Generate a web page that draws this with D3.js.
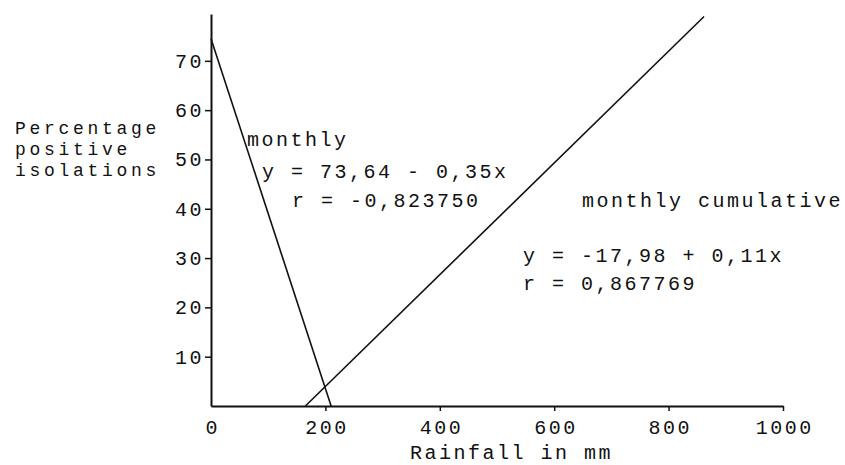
<!DOCTYPE html>
<html>
<head>
<meta charset="utf-8">
<script src="https://cdn.jsdelivr.net/npm/d3@7"></script>
<style>
  body { margin: 0; background: #fff; }
  svg text { font-family: "Liberation Mono", "DejaVu Sans Mono", monospace; fill: #111; }
</style>
</head>
<body>
<svg id="chart"></svg>
<script>
// tick values
const xTicks = [0, 200, 400, 600, 800, 1000];
const yTicks = [10, 20, 30, 40, 50, 60, 70];

// regression lines as drawn (rainfall mm, % positive)
const monthlyX = [0, 210];
const monthlyY = [74.5, 0];
const cumulativeX = [165, 862];
const cumulativeY = [0, 79];

// text in the figure
const yTitle = ["Percentage", "positive", "isolations"];
const xTitle = "Rainfall in mm";
const monthlyText = ["monthly", "y = 73,64 - 0,35x", "r = -0,823750"];
const cumulativeText = ["monthly cumulative", "y = -17,98 + 0,11x", "r = 0,867769"];

class RainChart {

  constructor(_config) {
    this.config = {
      parentElement: _config.parentElement,
      containerWidth: _config.containerWidth || 845,
      containerHeight: _config.containerHeight || 465,
      margin: { top: 14, bottom: 59, right: 62, left: 211 }
    }
    this.initVis();
  }

  initVis() {
    let vis = this;

    vis.width = vis.config.containerWidth - vis.config.margin.left - vis.config.margin.right;
    vis.height = vis.config.containerHeight - vis.config.margin.top - vis.config.margin.bottom;

    vis.svg = d3.select(vis.config.parentElement)
        .attr('width', vis.config.containerWidth)
        .attr('height', vis.config.containerHeight);

    vis.chart = vis.svg.append('g')
        .attr('transform', `translate(${vis.config.margin.left},${vis.config.margin.top})`);

    vis.xScale = d3.scaleLinear()
        .domain([0, 1000])
        .range([0, vis.width]);

    vis.yScale = d3.scaleLinear()
        .domain([0, 79.5])
        .range([vis.height, 0]);

    vis.xAxis = d3.axisBottom(vis.xScale)
        .tickValues(xTicks)
        .tickFormat(d3.format("d"))
        .tickSize(5)
        .tickSizeOuter(0)
        .tickPadding(9);

    vis.yAxis = d3.axisLeft(vis.yScale)
        .tickValues(yTicks)
        .tickSize(6)
        .tickSizeOuter(0)
        .tickPadding(1);

    vis.renderVis();
  }

  renderVis() {
    let vis = this;

    let xg = vis.chart.append('g')
        .attr('transform', `translate(0,${vis.height})`)
        .call(vis.xAxis);
    xg.selectAll('.tick line').filter(d => d == 0).remove();

    let yg = vis.chart.append('g')
        .call(vis.yAxis);

    vis.svg.selectAll('.domain')
        .attr('stroke', '#111')
        .attr('stroke-width', 2);
    vis.svg.selectAll('.tick line')
        .attr('stroke', '#111')
        .attr('stroke-width', 1.5);
    vis.svg.selectAll('.tick text')
        .style('font-size', '20px')
        .style('letter-spacing', '2.5px')
        .attr('fill', '#111');
    xg.selectAll('.tick text').attr('dx', '1.2px').attr('dy', '0.68em');

    let line = d3.line()
        .x(d => vis.xScale(d[0]))
        .y(d => vis.yScale(d[1]));

    let lines = [d3.zip(monthlyX, monthlyY), d3.zip(cumulativeX, cumulativeY)];
    vis.chart.selectAll('.fit')
        .data(lines)
        .join('path')
          .attr('class', 'fit')
          .attr('fill', 'none')
          .attr('stroke', '#111')
          .attr('stroke-width', 1.6)
          .attr('d', d => line(d));

    // annotation text, typewriter style
    let label = (txt, x, y, size = 20, spacing = 2.5) => vis.svg.append('text')
        .attr('x', x)
        .attr('y', y)
        .style('font-size', size + 'px')
        .style('letter-spacing', spacing + 'px')
        .text(txt);

    // tight typewriter line spacing, a touch smaller so lines don't collide
    yTitle.forEach((t, i) => label(t, 15, 134 + i * 21, 18, 3.7));
    label(xTitle, 410, 459);

    label(monthlyText[0], 247, 146);
    label(monthlyText[1], 262, 178);
    label(monthlyText[2], 292, 207);

    label(cumulativeText[0], 582, 207);
    label(cumulativeText[1], 523, 262);
    label(cumulativeText[2], 523, 290);
  }
}

let chart = new RainChart({ parentElement: '#chart' });
</script>
</body>
</html>
